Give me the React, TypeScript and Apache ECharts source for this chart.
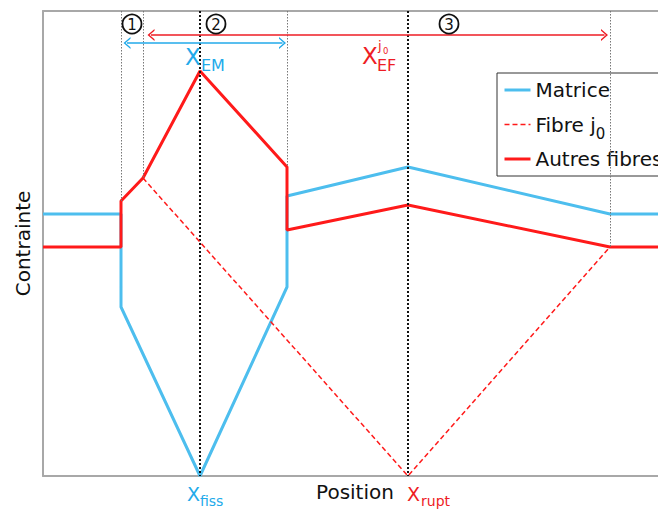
import React, { useEffect, useRef } from 'react';
import * as echarts from 'echarts';

// Position (x) and stress (y) in arbitrary units
const matriceX = [0, 78, 78, 157, 244, 244, 365, 567, 615];
const matriceY = [262, 262, 169, 0, 189, 280, 309, 262, 262];
const autresX = [0, 78, 78, 100, 157, 244, 244, 365, 567, 615];
const autresY = [229, 229, 275, 298, 405, 309, 246, 271, 229, 229];
const fibreX = [100, 365, 567];
const fibreY = [298, 0, 229];

const xFiss = 157;
const xRupt = 365;
const zoneX = [78, 100, 244, 567];
const zoneBottom = [275, 298, 309, 229];
const emRange = [84, 239.5];
const efRange = [108, 561.5];
const emLevel = 433;
const efLevel = 441;
const xMax = 615;
const yMax = 465;

const legendNames = ['Matrice', 'Fibre j0', 'Autres fibres'];
const legendWidths = [3, 1.5, 3];

export default function App() {
  const ref = useRef<HTMLDivElement>(null);
  useEffect(() => {
    document.body.style.margin = '0';
    const chart = echarts.init(ref.current!, null, { renderer: 'svg' });
    const FONT = 'DejaVu Sans';
    const BLUE = '#4DBEEE';
    const RED = '#FF1A1A';
    const BLUE_T = '#22AAEA';
    const RED_T = '#EE1C24';
    const AX = { show: true, onZero: false, lineStyle: { color: '#a8a8a8', width: 2 } };
    const zip = (xs: number[], ys: number[]) => xs.map((x, i) => [x, ys[i]]);
    const chevron = 'path://M0,10L5,0L10,10L8.5,10L5,3L1.5,10Z';
    const thin = { color: '#777', width: 1, type: [1.5, 1.5] };
    const thick = { color: '#111', width: 2, type: [2, 2] };

    const txt = (x: number, y: number, text: string, size: number, fill: string) => ({
      type: 'text', x, y, silent: true, z: 100,
      style: {
        text, fill, fontSize: size, fontFamily: FONT,
        align: 'left', verticalAlign: 'middle', textAlign: 'left', textVerticalAlign: 'middle',
      },
    });
    const circ = (cx: number, cy: number, n: string) => [
      { type: 'circle', shape: { cx, cy, r: 9.5 }, style: { fill: 'none', stroke: '#111', lineWidth: 1.8 }, z: 100 },
      { type: 'text', x: cx, y: cy + 0.5, z: 100, style: { text: n, fill: '#111', fontSize: 15, fontFamily: FONT, align: 'center', verticalAlign: 'middle', textAlign: 'center', textVerticalAlign: 'middle' } },
    ];

    const option: any = {
      animation: false,
      grid: { left: 43, right: 0, top: 11, bottom: 38 },
      xAxis: [
        {
          type: 'value', min: 0, max: xMax,
          axisLine: AX, axisTick: { show: false }, axisLabel: { show: false }, splitLine: { show: false },
          name: 'Position', nameLocation: 'middle', nameGap: 6,
          nameTextStyle: { fontFamily: FONT, fontSize: 20, color: '#111', padding: [0, 0, 0, 9] },
        },
        {
          type: 'value', position: 'top', min: 0, max: xMax,
          axisLine: AX, axisTick: { show: false }, axisLabel: { show: false }, splitLine: { show: false },
        },
      ],
      yAxis: {
        type: 'value', min: 0, max: yMax,
        axisLine: AX, axisTick: { show: false }, axisLabel: { show: false }, splitLine: { show: false },
        name: 'Contrainte', nameLocation: 'middle', nameRotate: 90, nameGap: 10,
        nameTextStyle: { fontFamily: FONT, fontSize: 20, color: '#111' },
      },
      legend: {
        orient: 'vertical', left: 497, top: 73,
        data: legendNames.map((name, i) => ({ name, lineStyle: { width: legendWidths[i] } })),
        formatter: (n: string) => (n === 'Fibre j0' ? 'Fibre j{sub|0}' : n),
        itemWidth: 26, itemHeight: 14, itemGap: 6,
        padding: [5, 40, 5, 6],
        itemStyle: { opacity: 0 },
        backgroundColor: '#fff', borderColor: '#333', borderWidth: 1, borderRadius: 0,
        textStyle: {
          fontFamily: FONT, fontSize: 20, color: '#111', lineHeight: 24,
          rich: { sub: { fontFamily: FONT, fontSize: 15, color: '#111', lineHeight: 24, padding: [18, 0, 0, 0] } },
        },
      },
      series: [
        {
          name: 'Matrice', type: 'line', data: zip(matriceX, matriceY), symbol: 'none', showSymbol: false,
          lineStyle: { color: BLUE, width: 3 }, itemStyle: { color: BLUE }, z: 3,
        },
        {
          name: 'Autres fibres', type: 'line', data: zip(autresX, autresY), symbol: 'none', showSymbol: false,
          lineStyle: { color: RED, width: 3 }, itemStyle: { color: RED }, z: 4,
        },
        {
          name: 'Fibre j0', type: 'line', data: zip(fibreX, fibreY), symbol: 'none', showSymbol: false,
          lineStyle: { color: RED, width: 1.5, type: [5, 3] }, itemStyle: { color: RED }, z: 5,
        },
        {
          type: 'line', data: [], silent: true, z: 6,
          markLine: {
            silent: true, symbol: 'none', label: { show: false }, animation: false,
            data: [
              ...zoneX.map((x, i) => [
                { coord: [x, yMax], lineStyle: thin },
                { coord: [x, zoneBottom[i]] },
              ]),
              [{ coord: [xFiss, yMax], lineStyle: thick }, { coord: [xFiss, 0] }],
              [{ coord: [xRupt, yMax], lineStyle: thick }, { coord: [xRupt, 0] }],
            ],
          },
        },
        {
          type: 'line', data: [], silent: true, z: 7,
          markLine: {
            silent: true, symbol: [chevron, chevron], symbolSize: [12, 7], label: { show: false }, animation: false,
            data: [
              [{ coord: [emRange[0], emLevel], lineStyle: { color: BLUE_T, width: 1.6, type: 'solid' }, itemStyle: { color: BLUE_T } }, { coord: [emRange[1], emLevel] }],
              [{ coord: [efRange[0], efLevel], lineStyle: { color: RED_T, width: 1.6, type: 'solid' }, itemStyle: { color: RED_T } }, { coord: [efRange[1], efLevel] }],
            ],
          },
        },
      ],
      graphic: [
        ...circ(132, 24, '1'),
        ...circ(216, 24, '2'),
        ...circ(449, 24, '3'),
        txt(185, 57, 'X', 23, BLUE_T),
        txt(201, 65.5, 'EM', 16, BLUE_T),
        txt(362, 56, 'X', 23, RED_T),
        txt(377, 65.5, 'EF', 16, RED_T),
        txt(378, 45, 'j', 13, RED_T),
        txt(383, 50.5, '0', 8.5, RED_T),
        txt(187, 493.5, 'X', 19, BLUE_T),
        txt(200, 501, 'fiss', 14, BLUE_T),
        txt(407, 493.5, 'X', 19, RED_T),
        txt(421, 501, 'rupt', 14, RED_T),
      ],
    };
    chart.setOption(option);
    return () => chart.dispose();
  }, []);
  return <div ref={ref} style={{ width: 658, height: 514 }} />;
}
